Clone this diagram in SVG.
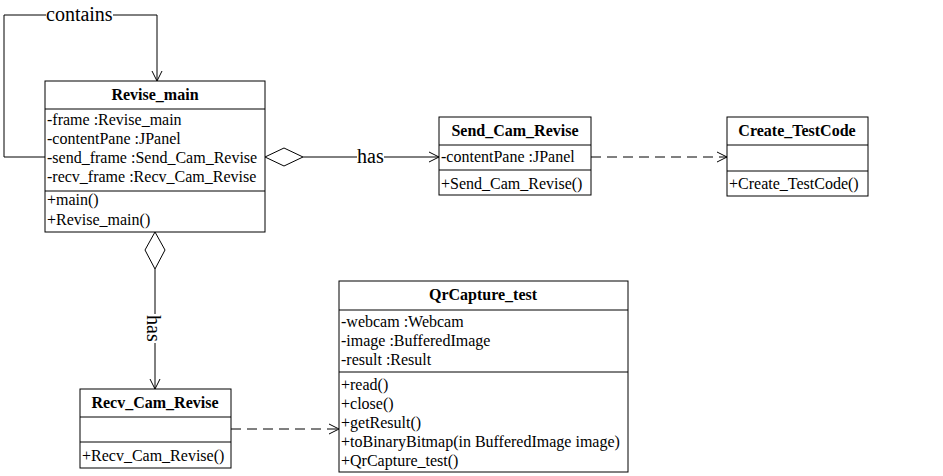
<svg xmlns="http://www.w3.org/2000/svg" width="943" height="476" viewBox="0 0 943 476">
<style>
.box{fill:#fff;stroke:#000;stroke-width:1}
.t{font-family:"Liberation Serif","Times New Roman",serif;font-size:16px;fill:#000}
.h{font-family:"Liberation Serif","Times New Roman",serif;font-size:16px;font-weight:bold;fill:#000;text-anchor:middle}
.l{font-family:"Liberation Serif","Times New Roman",serif;font-size:20px;fill:#000}
.c{fill:none;stroke:#000;stroke-width:1}
.d{fill:none;stroke:#000;stroke-width:1;stroke-dasharray:10 6}
</style>
<defs>
<marker id="open" markerWidth="12" markerHeight="12" refX="11" refY="6" orient="auto" markerUnits="userSpaceOnUse">
<path d="M1,1 L11,6 L1,11" fill="none" stroke="#000" stroke-width="1"/>
</marker>
</defs>
<rect width="943" height="476" fill="#fff"/>
<g id="connectors">
<polyline class="c" points="45,157 4,157 4,15 46,15"/>
<polyline class="c" points="113,15 157,15 157,81" marker-end="url(#open)"/>
<text class="l" x="46" y="21">contains</text>
<polygon class="c" points="265,157 284,148 303,157 284,166" fill="#fff"/>
<line class="c" x1="303" y1="157" x2="357" y2="157"/>
<line class="c" x1="384" y1="157" x2="439" y2="157" marker-end="url(#open)"/>
<text class="l" x="357" y="163">has</text>
<line class="d" x1="591" y1="157" x2="727" y2="157" marker-end="url(#open)"/>
<polygon class="c" points="155,232 145,250 155,269 165,250" fill="#fff"/>
<line class="c" x1="155" y1="269" x2="155" y2="314"/>
<line class="c" x1="155" y1="343" x2="155" y2="389" marker-end="url(#open)"/>
<text class="l" transform="translate(147,315) rotate(90)">has</text>
<line class="d" x1="231" y1="429" x2="339" y2="429" marker-end="url(#open)"/>
</g>
<g id="Revise_main">
<rect class="box" x="45" y="81" width="220" height="151"/>
<line class="c" x1="45" y1="109" x2="265" y2="109"/>
<line class="c" x1="45" y1="191" x2="265" y2="191"/>
<text class="h" x="155" y="100">Revise_main</text>
<text class="t" x="47" y="125">-frame :Revise_main</text>
<text class="t" x="47" y="144">-contentPane :JPanel</text>
<text class="t" x="47" y="163">-send_frame :Send_Cam_Revise</text>
<text class="t" x="47" y="182">-recv_frame :Recv_Cam_Revise</text>
<text class="t" x="47" y="205">+main()</text>
<text class="t" x="47" y="225">+Revise_main()</text>
</g>
<g id="Send_Cam_Revise">
<rect class="box" x="439" y="117" width="152" height="78"/>
<line class="c" x1="439" y1="145" x2="591" y2="145"/>
<line class="c" x1="439" y1="170" x2="591" y2="170"/>
<text class="h" x="515" y="136">Send_Cam_Revise</text>
<text class="t" x="441" y="162">-contentPane :JPanel</text>
<text class="t" x="441" y="189">+Send_Cam_Revise()</text>
</g>
<g id="Create_TestCode">
<rect class="box" x="727" y="117" width="141" height="79"/>
<line class="c" x1="727" y1="145" x2="868" y2="145"/>
<line class="c" x1="727" y1="171" x2="868" y2="171"/>
<text class="h" x="797" y="136">Create_TestCode</text>
<text class="t" x="729" y="189">+Create_TestCode()</text>
</g>
<g id="Recv_Cam_Revise">
<rect class="box" x="80" y="389" width="151" height="79"/>
<line class="c" x1="80" y1="417" x2="231" y2="417"/>
<line class="c" x1="80" y1="442" x2="231" y2="442"/>
<text class="h" x="155" y="408">Recv_Cam_Revise</text>
<text class="t" x="82" y="461">+Recv_Cam_Revise()</text>
</g>
<g id="QrCapture_test">
<rect class="box" x="339" y="281" width="289" height="191"/>
<line class="c" x1="339" y1="310" x2="628" y2="310"/>
<line class="c" x1="339" y1="372" x2="628" y2="372"/>
<text class="h" x="483" y="300">QrCapture_test</text>
<text class="t" x="341" y="327">-webcam :Webcam</text>
<text class="t" x="341" y="346">-image :BufferedImage</text>
<text class="t" x="341" y="365">-result :Result</text>
<text class="t" x="341" y="390">+read()</text>
<text class="t" x="341" y="409">+close()</text>
<text class="t" x="341" y="428">+getResult()</text>
<text class="t" x="341" y="447">+toBinaryBitmap(in BufferedImage image)</text>
<text class="t" x="341" y="466">+QrCapture_test()</text>
</g>
</svg>
